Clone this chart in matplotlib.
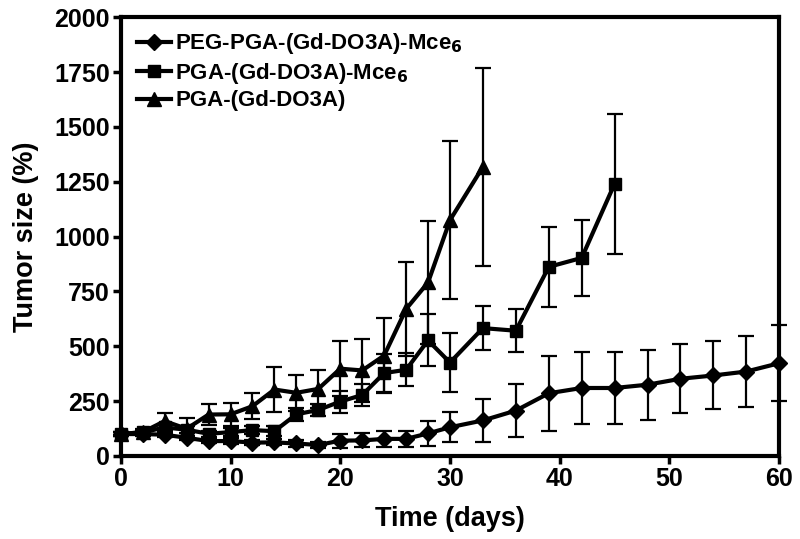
import numpy as np
import matplotlib
matplotlib.use('Agg')
import matplotlib.pyplot as plt

plt.rcParams['font.family'] = ['Liberation Sans', 'DejaVu Sans']
plt.rcParams['font.weight'] = 'bold'
plt.rcParams['mathtext.default'] = 'bf'

# PEG-PGA-(Gd-DO3A)-Mce6 (diamonds)
peg_days = [0, 2, 4, 6, 8, 10, 12, 14, 16, 18, 20, 22, 24, 26, 28, 30, 33, 36, 39, 42, 45, 48, 51, 54, 57, 60]
peg_mean = [100, 100, 97, 83, 68, 68, 61, 62, 57, 50, 70, 71, 78, 78, 103, 131, 162, 207, 286, 310, 310, 325, 352, 367, 385, 423]
peg_err = [8, 8, 10, 10, 10, 12, 12, 14, 14, 15, 32, 32, 36, 38, 56, 68, 98, 121, 171, 164, 164, 160, 158, 155, 163, 172]

# PGA-(Gd-DO3A)-Mce6 (squares)
pga_mce_days = [0, 2, 4, 6, 8, 10, 12, 14, 16, 18, 20, 22, 24, 26, 28, 30, 33, 36, 39, 42, 45]
pga_mce_mean = [100, 108, 130, 120, 101, 109, 118, 113, 190, 210, 248, 278, 378, 393, 527, 426, 583, 571, 862, 903, 1241]
pga_mce_err = [10, 12, 18, 15, 15, 20, 20, 22, 30, 28, 50, 50, 88, 75, 118, 135, 102, 97, 183, 173, 318]

# PGA-(Gd-DO3A) (triangles)
pga_days = [0, 2, 4, 6, 8, 10, 12, 14, 16, 18, 20, 22, 24, 26, 28, 30, 33]
pga_mean = [100, 109, 159, 124, 189, 190, 227, 303, 288, 306, 398, 390, 458, 670, 791, 1075, 1318]
pga_err = [10, 15, 35, 47, 46, 53, 60, 102, 83, 85, 125, 145, 170, 215, 280, 360, 450]

labels = ['PEG-PGA-(Gd-DO3A)-Mce$_6$', 'PGA-(Gd-DO3A)-Mce$_6$', 'PGA-(Gd-DO3A)']

fig = plt.figure(figsize=(8, 5.39), dpi=100)
ax = fig.add_axes([0.151, 0.154, 0.823, 0.814])

series = [(peg_days, peg_mean, peg_err, 'D', 8),
          (pga_mce_days, pga_mce_mean, pga_mce_err, 's', 8.5),
          (pga_days, pga_mean, pga_err, '^', 10)]
handles = []
for d, m, e, mk, ms in series:
    cont = ax.errorbar(d, m, yerr=e, color='black', marker=mk, markersize=ms,
                       linewidth=3, elinewidth=1.6, capsize=6, capthick=1.6,
                       clip_on=False, zorder=3)
    handles.append(cont[0])

ax.set_xlim(0, 60)
ax.set_ylim(0, 2000)
ax.set_xticks([0, 10, 20, 30, 40, 50, 60])
ax.set_yticks(np.arange(0, 2001, 250))
for sp in ax.spines.values():
    sp.set_linewidth(3)
ax.tick_params(direction='out', length=6, width=2.5, labelsize=18, pad=2)
for t in ax.get_xticklabels() + ax.get_yticklabels():
    t.set_fontweight('bold')

ax.set_xlabel('Time (days)', fontsize=19.5, fontweight='bold', labelpad=11)
ax.set_ylabel('Tumor size (%)', fontsize=19.5, fontweight='bold', labelpad=11)

ax.legend(handles, labels, loc='upper left', bbox_to_anchor=(0.005, 0.998), frameon=False,
          handlelength=1.5, handletextpad=0.2, labelspacing=0.2,
          borderaxespad=0.2, prop={'size': 16, 'weight': 'bold'})

fig.savefig('out.png', dpi=100)
